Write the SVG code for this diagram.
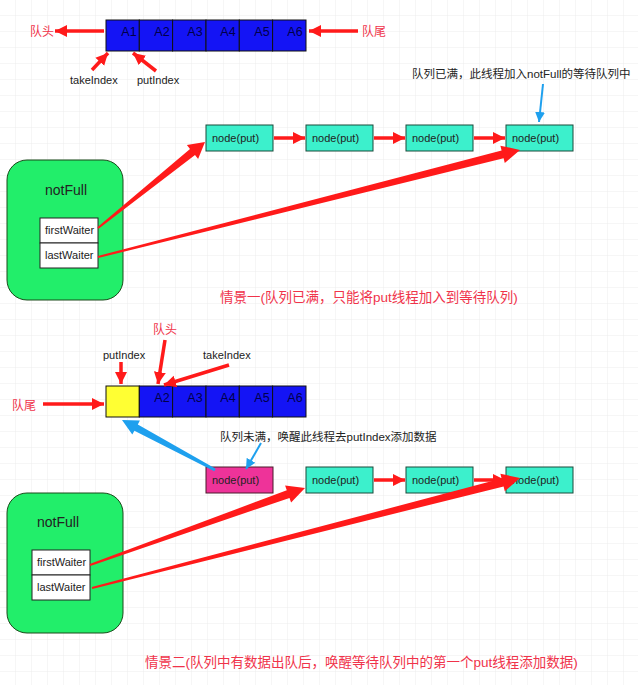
<svg xmlns="http://www.w3.org/2000/svg" width="638" height="685" viewBox="0 0 638 685">
<defs>
<pattern id="grid" width="16" height="16" patternUnits="userSpaceOnUse">
<path d="M16 0 V16 M0 16 H16" fill="none" stroke="#ececec" stroke-width="1"/>
</pattern>
<marker id="rh" markerUnits="userSpaceOnUse" markerWidth="14" markerHeight="14" refX="12" refY="7" orient="auto">
<path d="M0,1 L12,7 L0,13 z" fill="#ff1a1a"/>
</marker>
<marker id="bh" markerUnits="userSpaceOnUse" markerWidth="12" markerHeight="12" refX="10" refY="6" orient="auto">
<path d="M0,1 L10,6 L0,11 z" fill="#1ea0ee"/>
</marker>
<style>
text{font-family:"Liberation Sans","Noto Sans CJK SC",sans-serif;font-size:11px;fill:#222}
.red{fill:#f0334a;font-size:12px}
.big{fill:#f0334a;font-size:13.5px}
.note{font-size:11.5px}
.cell{fill:#1414f5;stroke:#111;stroke-width:1}
.ct{fill:#00004a;font-size:12.5px;text-anchor:middle}
.node{fill:#3cf0cc;stroke:#1a4a3a;stroke-width:1}
.cond{fill:#22ee6a;stroke:#1a4a1a;stroke-width:1}
.wait{fill:#fff;stroke:#222;stroke-width:1}
.ra{stroke:#ff1a1a;stroke-width:3.5;fill:none;marker-end:url(#rh)}
.ba{stroke:#1ea0ee;stroke-width:2;fill:none;marker-end:url(#bh)}
.rp{fill:#ff1a1a}
</style>
</defs>
<rect width="638" height="685" fill="#fff"/>
<rect width="638" height="685" fill="url(#grid)"/>

<!-- Scenario 1 -->
<g id="queue1">
<rect class="cell" x="106" y="20" width="33.3" height="31"/>
<rect class="cell" x="139.3" y="20" width="33.3" height="31"/>
<rect class="cell" x="172.6" y="20" width="33.4" height="31"/>
<rect class="cell" x="206" y="20" width="33.3" height="31"/>
<rect class="cell" x="239.3" y="20" width="33.3" height="31"/>
<rect class="cell" x="272.6" y="20" width="33.4" height="31"/>
<text class="ct" x="129" y="36">A1</text>
<text class="ct" x="162" y="36">A2</text>
<text class="ct" x="195" y="36">A3</text>
<text class="ct" x="228" y="36">A4</text>
<text class="ct" x="262" y="36">A5</text>
<text class="ct" x="295" y="36">A6</text>
</g>
<g id="labels1">
<text class="red" x="30" y="36">队头</text>
<text class="red" x="362" y="36">队尾</text>
<text x="70" y="84">takeIndex</text>
<text x="137" y="84">putIndex</text>
<text class="note" x="412" y="78">队列已满，此线程加入notFull的等待队列中</text>
<text class="big" x="220" y="302">情景一(队列已满，只能将put线程加入到等待队列)</text>
</g>
<g id="n1a"><rect class="node" x="206" y="125" width="67" height="26"/><text x="212" y="142">node(put)</text></g>
<g id="n1b"><rect class="node" x="306" y="125" width="67" height="26"/><text x="312" y="142">node(put)</text></g>
<g id="n1c"><rect class="node" x="406" y="125" width="67" height="26"/><text x="412" y="142">node(put)</text></g>
<g id="n1d"><rect class="node" x="506" y="125" width="67" height="26"/><text x="512" y="142">node(put)</text></g>
<g id="notFull1">
<rect class="cond" x="7" y="160" width="116" height="140" rx="20" ry="20"/>
<text x="45" y="195" style="font-size:14px">notFull</text>
<rect class="wait" x="40" y="218" width="58" height="25"/>
<rect class="wait" x="40" y="243" width="58" height="25"/>
<text x="45" y="234">firstWaiter</text>
<text x="45" y="259">lastWaiter</text>
</g>

<!-- Scenario 2 -->
<g id="queue2">
<rect x="106" y="386" width="33.3" height="31" fill="#ffff33" stroke="#111"/>
<rect class="cell" x="139.3" y="386" width="33.3" height="31"/>
<rect class="cell" x="172.6" y="386" width="33.4" height="31"/>
<rect class="cell" x="206" y="386" width="33.3" height="31"/>
<rect class="cell" x="239.3" y="386" width="33.3" height="31"/>
<rect class="cell" x="272.6" y="386" width="33.4" height="31"/>
<text class="ct" x="162" y="402">A2</text>
<text class="ct" x="195" y="402">A3</text>
<text class="ct" x="228" y="402">A4</text>
<text class="ct" x="262" y="402">A5</text>
<text class="ct" x="295" y="402">A6</text>
</g>
<g id="labels2">
<text class="red" x="153" y="334">队头</text>
<text x="103" y="359">putIndex</text>
<text x="203" y="359">takeIndex</text>
<text class="red" x="12" y="410">队尾</text>
<text class="note" x="220" y="441">队列未满，唤醒此线程去putIndex添加数据</text>
<text class="big" x="145" y="667">情景二(队列中有数据出队后，唤醒等待队列中的第一个put线程添加数据)</text>
</g>
<g id="n2p"><rect x="206" y="467" width="67" height="26" fill="#ee3399" stroke="#4a1a2a"/><text x="212" y="484">node(put)</text></g>
<g id="n2a"><rect class="node" x="306" y="467" width="67" height="26"/><text x="312" y="484">node(put)</text></g>
<g id="n2b"><rect class="node" x="406" y="467" width="67" height="26"/><text x="412" y="484">node(put)</text></g>
<g id="n2c"><rect class="node" x="506" y="467" width="67" height="26"/><text x="512" y="484">node(put)</text></g>
<g id="notFull2">
<rect class="cond" x="7" y="493" width="116" height="140" rx="20" ry="20"/>
<text x="37" y="527" style="font-size:14px">notFull</text>
<rect class="wait" x="32" y="550" width="58" height="25"/>
<rect class="wait" x="32" y="575" width="58" height="25"/>
<text x="37" y="566">firstWaiter</text>
<text x="37" y="591">lastWaiter</text>
</g>

<g id="connectors">
<!-- scenario 1 -->
<line class="ra" x1="104" y1="31" x2="55" y2="31"/>
<line class="ra" x1="358" y1="31" x2="309" y2="31"/>
<line class="ra" x1="92" y1="70" x2="108" y2="53"/>
<line class="ra" x1="156" y1="71" x2="133" y2="53"/>
<line class="ra" x1="274" y1="138" x2="305" y2="138"/>
<line class="ra" x1="374" y1="138" x2="405" y2="138"/>
<line class="ra" x1="474" y1="138" x2="505" y2="138"/>
<line class="ba" x1="543" y1="84" x2="539" y2="122"/>
<polygon class="rp" points="98.6,228.8 195,155.1 198.1,159 205,142 186.9,145 190,148.9 97.4,227.2"/>
<polygon class="rp" points="98.2,258 503.6,158.3 504.8,163.1 520,150 500.4,145.7 501.6,150.5 97.8,256"/>
<!-- scenario 2 -->
<line class="ra" x1="121" y1="362" x2="121" y2="384"/>
<line class="ra" x1="165" y1="340" x2="158" y2="384"/>
<line class="ra" x1="229" y1="365" x2="164" y2="385"/>
<line class="ra" x1="43" y1="404" x2="104" y2="404"/>
<line class="ra" x1="474" y1="480" x2="505" y2="480"/>
<line class="ra" x1="374" y1="480" x2="405" y2="480"/>
<line class="ba" x1="261" y1="443" x2="246" y2="469"/>
<polygon fill="#1ea0ee" points="215.7,468.7 137.8,424.5 139.9,420.6 122,420 132.3,434.6 134.4,430.7 214.3,471.3"/>
<polygon class="rp" points="90.3,565.9 289.5,497.9 291.1,502.6 305,488 285.1,485.6 286.8,490.3 89.7,564.1"/>
<polygon class="rp" points="92.2,589 503.6,486.4 504.8,491.2 520,478 500.4,473.8 501.6,478.6 91.8,587"/>
</g>
</svg>
